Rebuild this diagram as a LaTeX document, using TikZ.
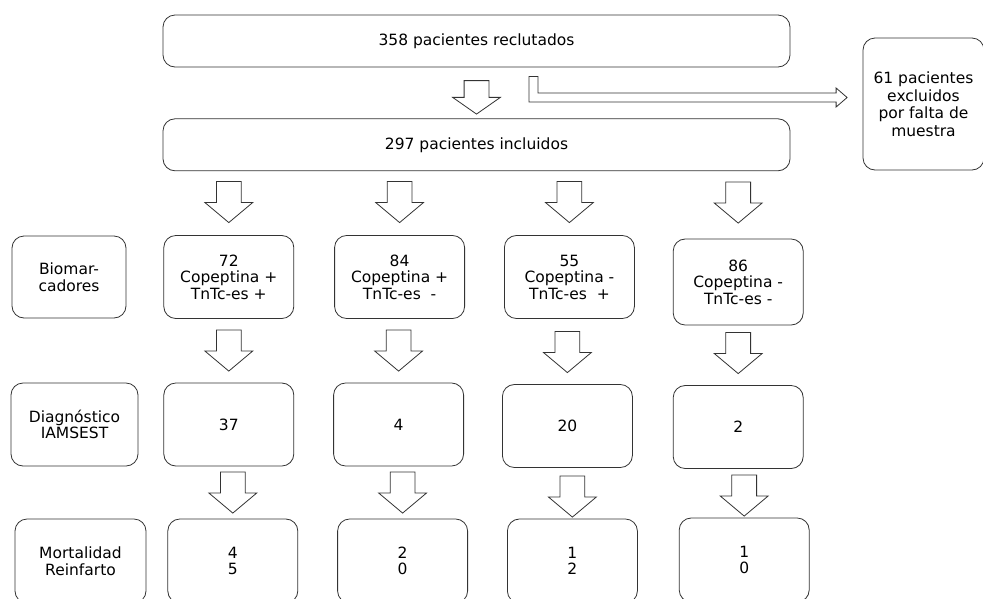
\documentclass[tikz,border=0pt]{standalone}
\usepackage{fontspec}
\setmainfont{DejaVu Sans}
\usetikzlibrary{positioning,shapes.arrows}
\tikzstyle{box}=[rectangle,rounded corners=12pt,draw=black!80,line width=0.8pt,
minimum width=130pt,minimum height=83pt,align=center,inner sep=2pt,
font=\fontsize{15.5}{16.5}\selectfont]
\tikzstyle{wide}=[box,minimum width=627pt,minimum height=52pt]
\tikzstyle{downarrow}=[single arrow,draw=black!80,line width=0.8pt,
shape border rotate=270,single arrow head extend=11.5pt,inner sep=12pt,
minimum height=41pt,single arrow tip angle=100]
\tikzstyle{hollow}=[draw=black!80,line width=0.8pt,line join=miter]

\begin{document}
\begin{tikzpicture}[x=1pt,y=-1pt]
            \useasboundingbox (0,0) rectangle (983,598);
            \clip (0,0) rectangle (983,598);

            % PATIENTS PART

            \node[wide] (rec) at (476.5,41) {358 pacientes reclutados};
            \node[wide,below=51pt of rec] (inc) {297 pacientes incluidos};
            \node[box,minimum width=121pt,minimum height=132pt,
                font=\fontsize{15.5}{17.5}\selectfont] (exc) at (923.5,104)
                {61 pacientes\\excluidos\\por falta de\\muestra};

            \node[downarrow,minimum height=32pt,single arrow tip angle=110] (a0) at (476.5,93) {};

            \coordinate (bt) at ([xshift=52.5pt,yshift=-9pt]rec.south);
            \coordinate (tip) at ([xshift=-15.5pt,yshift=6.5pt]exc.west);
            \draw[hollow] (bt) -- ++(9pt,0) |- ([xshift=-11pt,yshift=4.5pt]tip)
                -- ++(0,5pt) -- (tip) -- ++(-11pt,-9.5pt) -- ++(0,5pt) -| (bt) -- cycle;

            % BIOMARKERS PART

            \node[box,minimum width=114pt,minimum height=82pt] (bio) at (69,277) {Biomar-\\cadores};
            \node[box, right=37pt of bio] (b1) {72\\Copeptina +\\TnTc-es +};
            \node[box, right=40pt of b1] (b2) {84\\Copeptina +\\TnTc-es\ \ -};
            \node[box, right=39pt of b2] (b3) {55\\Copeptina -\\TnTc-es\ \ +};
            \node[box, right=38pt of b3,yshift=-5pt,minimum height=86pt] (b4) {86\\Copeptina -\\TnTc-es -};

            \node[downarrow, above=12pt of b1] (ab1) {};
            \node[downarrow, above=12pt of b2] (ab2) {};
            \node[downarrow, above=12pt of b3] (ab3) {};
            \node[downarrow, above=15pt of b4] (ab4) {};

            % DIAGNOSIS PART

            \node[box,minimum width=127pt] (diag) at (74.5,424.5) {Diagnóstico\\IAMSEST};
            \node[box, right=25pt of diag] (d1) {37};
            \node[box, right=39pt of d1] (d2) {4};
            \node[box, right=38pt of d2,yshift=-1.5pt] (d3) {20};
            \node[box, right=40pt of d3,yshift=-1pt] (d4) {2};

            \node[downarrow, above=11pt of d1] (ad1) {};
            \node[downarrow, above=11pt of d2] (ad2) {};
            \node[downarrow, above=11pt of d3] (ad3) {};
            \node[downarrow, above=11pt of d4] (ad4) {};

            % OUTCOME PART

            \node[box,minimum width=131pt,minimum height=84pt] (mort) at (80.5,561) {Mortalidad\\Reinfarto};
            \node[box, right=21pt of mort,minimum height=84pt] (m1) {4\\5};
            \node[box, right=39pt of m1,minimum height=84pt] (m2) {2\\0};
            \node[box, right=39pt of m2,minimum height=84pt] (m3) {1\\2};
            \node[box, right=41pt of m3,minimum height=84pt,yshift=1pt] (m4) {1\\0};

            \node[downarrow, above=5pt of m1] (am1) {};
            \node[downarrow, above=5pt of m2] (am2) {};
            \node[downarrow, above=1pt of m3] (am3) {};
            \node[downarrow, above=1pt of m4] (am4) {};

        \end{tikzpicture}
\end{document}
